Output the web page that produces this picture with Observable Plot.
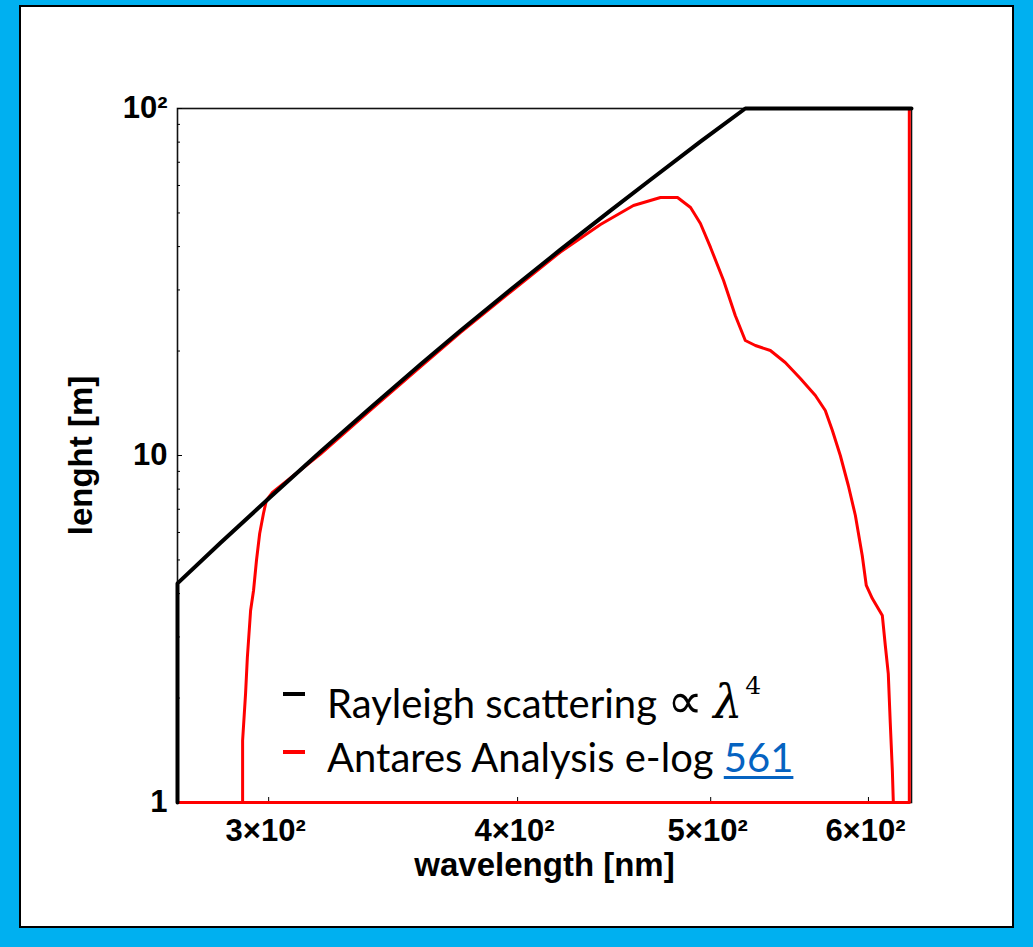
<!DOCTYPE html>
<html>
<head>
<meta charset="utf-8">
<script src="https://cdn.jsdelivr.net/npm/d3@7"></script>
<script src="https://cdn.jsdelivr.net/npm/@observablehq/plot@0.6"></script>
<style>
  html, body { margin: 0; padding: 0; width: 1033px; height: 947px; overflow: hidden; background: #00B0F0; }
  #box { position: absolute; left: 19px; top: 5px; width: 991px; height: 919px; background: #fff; border: 2px solid #000; }
  #chart { position: absolute; left: 0; top: 0; }
  .leg { position: absolute; left: 327px; height: 54px; font-family: Lato, "Open Sans", sans-serif; font-size: 40px; line-height: 54px; color: #000; white-space: nowrap; }
  .dash { position: absolute; left: 283px; width: 22px; height: 4px; }
  .prop { font-family: "DejaVu Sans", sans-serif; font-size: 50px; line-height: 0; }
  .lam { font-family: "DejaVu Serif", serif; font-style: italic; font-size: 46px; line-height: 0; }
  .sup { font-family: "DejaVu Serif", serif; font-size: 25px; line-height: 0; position: relative; top: -24px; margin-left: 3px; }
  a { color: #0563C1; text-decoration: underline; text-decoration-thickness: 3px; text-underline-offset: 4px; }
</style>
</head>
<body>
<div id="box"></div>
<div id="chart"></div>
<div class="dash" style="top:692px;background:#000"></div>
<div class="dash" style="top:750px;background:#f00"></div>
<div class="leg" style="top:676px">Rayleigh scattering <span class="prop">∝</span> <span class="lam">λ</span><span class="sup">4</span></div>
<div class="leg" style="top:730px">Antares Analysis e-log <a href="#">561</a></div>
<script>
// Rayleigh scattering (black)
const rayleighWavelength = [270, 270, 283.7, 300.6, 318.5, 337.9, 357.5, 374.4, 396.7, 420.3, 445.3, 466.4, 494.1, 520.4, 630.6];
const rayleighLength     = [1, 4.28, 5.595, 7.597, 10.25, 13.81, 18.28, 22.87, 30.03, 39.19, 50.79, 62.34, 80.29, 100, 100];

// Antares Analysis e-log 561 (red)
const antaresWavelength = [629, 629, 270, 291.1, 291.1, 292.1, 292.7, 293.8, 294.8, 295.8, 296.9, 298.2, 299.2, 301.3,
  318.5, 337.9, 357.5, 374.4, 396.7, 420.3, 440.2, 457.3, 471.8, 481.2, 488.5, 494.1, 499.9, 507.5, 514.4, 520.4,
  526.5, 535.7, 545.0, 554.6, 564.3, 570.8, 575.5, 580.8, 586.2, 591.0, 595.7, 598.5, 602.7, 609.7, 611.8, 613.9,
  615.3, 616.8, 617.5];
const antaresLength = [100, 1, 1, 1, 1.509, 2.062, 2.617, 3.575, 4.083, 4.982, 5.961, 6.806, 7.419, 7.823,
  10.1, 13.6, 18.0, 22.6, 29.6, 38.6, 46.3, 52.54, 55.41, 55.41, 51.84, 46.63, 39.77, 31.94, 25.32, 21.45,
  20.75, 20.07, 18.54, 16.67, 14.89, 13.48, 11.80, 10.0, 8.195, 6.716, 5.150, 4.221, 3.871, 3.458, 2.834, 2.353,
  1.701, 1.236, 1];

const xTicks = [300, 400, 500, 600];
const xTickLabels = ["3×10²", "4×10²", "5×10²", "6×10²"];
const yTicks = [1, 10, 100];
const yTickLabels = ["1", "10", "10²"];
const yMinorTicks = [2, 3, 4, 5, 6, 7, 8, 9, 20, 30, 40, 50, 60, 70, 80, 90];
const xLabel = "wavelength [nm]";
const yLabel = "lenght [m]";

const rayleigh = rayleighWavelength.map((w, i) => ({w, l: rayleighLength[i]}));
const antares = antaresWavelength.map((w, i) => ({w, l: antaresLength[i]}));

const font = "'Liberation Sans', Arial, sans-serif";

const chart = Plot.plot({
  width: 1033,
  height: 947,
  marginLeft: 177,
  marginRight: 122,
  marginTop: 108,
  marginBottom: 145,
  style: {background: "transparent", overflow: "visible", fontFamily: font, color: "#000"},
  x: {type: "log", domain: [270, 630.6], axis: null},
  y: {type: "log", domain: [1, 100], axis: null},
  marks: [
    Plot.frame({stroke: "#111", strokeWidth: 1.6}),
    // inward ticks
    Plot.axisX(xTicks, {anchor: "bottom", tickSize: 5, dy: -5, fill: "none", label: null}),
    Plot.axisY(yTicks, {anchor: "left", tickSize: 5, dx: 5, fill: "none", label: null}),
    Plot.axisY(yMinorTicks, {anchor: "left", tickSize: 3, dx: 3, fill: "none", label: null}),
    // tick labels
    Plot.text(xTicks, {x: d => d, frameAnchor: "bottom", textAnchor: "middle", lineAnchor: "bottom", dy: 38, dx: -3,
      text: d => xTickLabels[xTicks.indexOf(d)], fontSize: 31, fontWeight: "bold", fill: "#000"}),
    Plot.text(yTicks, {y: d => d, frameAnchor: "left", textAnchor: "end", dx: -10,
      text: d => yTickLabels[yTicks.indexOf(d)], fontSize: 31, fontWeight: "bold", fill: "#000"}),
    // axis titles
    Plot.text([xLabel], {frameAnchor: "bottom", textAnchor: "middle", lineAnchor: "bottom", dy: 73, text: d => d, fontSize: 33, fontWeight: "bold", fill: "#000"}),
    Plot.text([yLabel], {frameAnchor: "left", textAnchor: "middle", dx: -96, rotate: -90, text: d => d, fontSize: 33, fontWeight: "bold", fill: "#000"}),
    // data
    Plot.line(antares, {x: "w", y: "l", stroke: "#ff0000", strokeWidth: 3, curve: "linear"}),
    Plot.line(rayleigh, {x: "w", y: "l", stroke: "#000", strokeWidth: 4, curve: "linear"})
  ]
});
document.getElementById("chart").appendChild(chart);
</script>
</body>
</html>
